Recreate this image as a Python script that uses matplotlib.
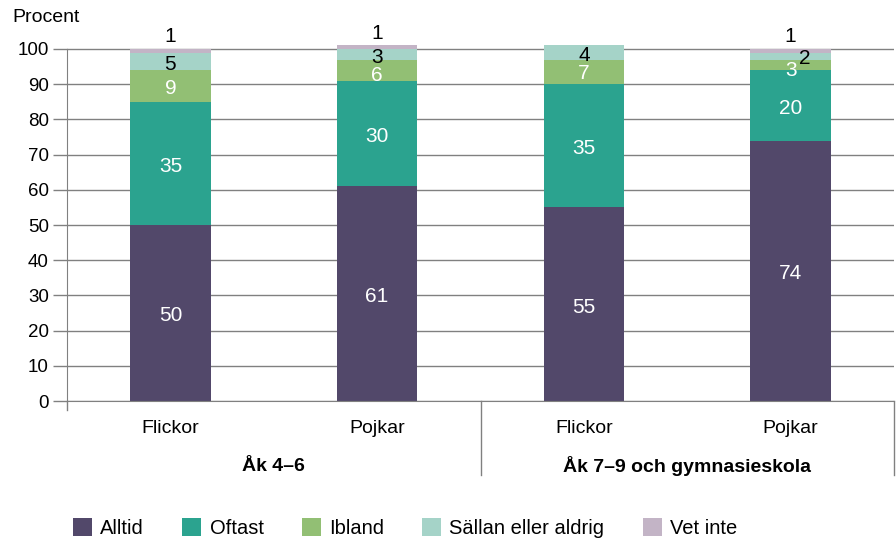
import matplotlib.pyplot as plt
import numpy as np

plt.rcParams['font.family'] = ['Liberation Sans', 'DejaVu Sans']

categories = ["Flickor", "Pojkar", "Flickor", "Pojkar"]
groups = ["Åk 4–6", "Åk 7–9 och gymnasieskola"]
series = ["Alltid", "Oftast", "Ibland", "Sällan eller aldrig", "Vet inte"]
alltid = [50, 61, 55, 74]
oftast = [35, 30, 35, 20]
ibland = [9, 6, 7, 3]
sallan = [5, 3, 4, 2]
vet_inte = [1, 1, 0, 1]

colors = ["#52486a", "#2ba38f", "#92bf74", "#a5d3c8", "#c3b4c6"]
text_colors = ["white", "white", "white", "black", "black"]

fig = plt.figure(figsize=(8.96, 5.4), dpi=100)
ax = fig.add_axes([67 / 896, 1 - 401 / 540, 827 / 896, 352 / 540 * 1.05])

x = np.arange(len(categories))
width = 0.39
bottom = np.zeros(len(categories))
data = [alltid, oftast, ibland, sallan, vet_inte]
for vals, col, tc, name in zip(data, colors, text_colors, series):
    vals = np.array(vals, dtype=float)
    ax.bar(x, vals, width, bottom=bottom, color=col, label=name, zorder=3)
    for i, v in enumerate(vals):
        if v <= 0:
            continue
        if name == "Vet inte":
            ax.text(x[i], bottom[i] + v + 0.8, f"{v:.0f}", ha="center", va="bottom",
                    fontsize=15, color=tc, zorder=4)
            continue
        dx = 0.07 if (name == "Sällan eller aldrig" and v < 3) else 0
        dy = -0.8
        if name == "Ibland":
            # small segments: labels pushed down a bit so they don't collide
            dy = -1.5 if v <= 6 else -0.6
        ax.text(x[i] + dx, bottom[i] + v / 2 + dy, f"{v:.0f}", ha="center",
                va="center", fontsize=15, color=tc, zorder=4)
    bottom += vals

ax.set_xlim(-0.5, 3.5)
ax.set_ylim(0, 105)
ax.set_yticks(range(0, 101, 10))
ax.tick_params(axis="y", labelsize=13.5, length=10, color="#808080", width=1, pad=3)
ax.yaxis.grid(True, color="#808080", linewidth=1, zorder=0)
ax.set_axisbelow(True)
for s in ["top", "right"]:
    ax.spines[s].set_visible(False)
ax.spines["left"].set_bounds(0, 100)
for s in ["bottom", "left"]:
    ax.spines[s].set_color("#808080")
    ax.spines[s].set_zorder(5)

ax.set_xticks(x)
ax.set_xticklabels(categories, fontsize=14)
ax.tick_params(axis="x", length=0, pad=14)

# group separators and labels
for xs, ln in [(-0.5, 2.5), (1.5, 21), (3.5, 21)]:
    ax.plot([xs, xs], [0, -ln], color="#808080", lw=1, clip_on=False)
for gi, g in enumerate(groups):
    ax.text(0.5 + 2 * gi, -18.6, g, ha="center", va="center", fontsize=14,
            fontweight="bold")

fig.text(12 / 896, 1 - 18 / 540, "Procent", fontsize=14, va="center", ha="left")

fig.legend(loc="center left", bbox_to_anchor=(55 / 896, 1 - 528 / 540), ncol=5,
           frameon=False, fontsize=14.5, handlelength=0.95, handleheight=0.95,
           columnspacing=1.9, handletextpad=0.4)

fig.savefig("out.png", dpi=100)
